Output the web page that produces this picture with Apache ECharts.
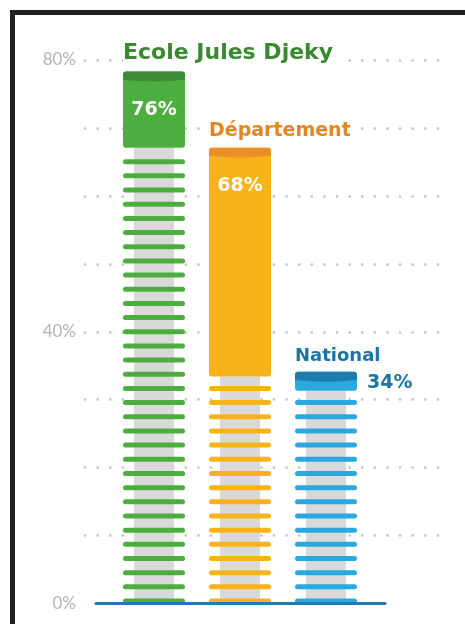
<!DOCTYPE html>
<html>
<head>
<meta charset="utf-8">
<script src="https://cdn.jsdelivr.net/npm/echarts@6/dist/echarts.min.js"></script>
<style>
html,body{margin:0;padding:0;background:#fff;}
#chart{width:465px;height:624px;position:absolute;left:0;top:0;}
#frame{position:absolute;left:10px;top:10px;width:455px;height:614px;border-top:5px solid #231f20;border-left:5px solid #231f20;box-sizing:border-box;pointer-events:none;z-index:5;}
</style>
</head>
<body>
<div id="chart"></div>
<div id="frame"></div>
<script>
// ---- data ----
const categories = ['Ecole Jules Djeky', 'Département', 'National'];
const percentLabels = [76, 68, 34];          // values printed on the chart
const headTop = [78.3, 67.1, 34.1];          // top of each coloured head (axis units, as drawn)
const headBottom = [67.1, 33.4, 31.3];       // bottom of each coloured head
const stripeTop = [64.5, 31.1, 28.9];        // top of the striped column
const yTickLabels = [0, 40, 80];

// ---- styles ----
const mainColors = ['#4cae3e', '#f9b21a', '#2aa8df'];
const bandColors = ['#3d8c35', '#e88f27', '#1f7bab'];
const titleColors = ['#38892f', '#e3861f', '#1b74a3'];
const titleSizes = [22, 19, 18];
const titleFont = '"DejaVu Sans", sans-serif';

const valueLabelStyles = [
  { position: 'inside', color: '#fff' },
  { position: 'insideTop', distance: 29, color: '#fff' },
  { position: 'right', distance: 10, color: '#1b74a3', offset: [0, 2] }
];

const chart = echarts.init(document.getElementById('chart'));

const gridTop = 60, gridBottom = 20.5;

const option = {
  animation: false,
  backgroundColor: '#fff',
  grid: [
    { left: 85, right: 25, top: gridTop, bottom: gridBottom },
    { left: 111, right: 96, top: gridTop, bottom: gridBottom },
    { left: 96, right: 80, top: gridTop, bottom: gridBottom }
  ],
  xAxis: [
    { gridIndex: 0, type: 'value', min: 0, max: 1, show: false },
    { gridIndex: 1, type: 'category', data: categories, show: false },
    { gridIndex: 2, type: 'value', min: 0, max: 1, z: 10,
      axisLine: { show: true, onZero: false, lineStyle: { color: '#1f7bb3', width: 3 } },
      axisTick: { show: false }, axisLabel: { show: false }, splitLine: { show: false } }
  ],
  yAxis: [
    { gridIndex: 0, type: 'value', min: 0, max: 80, interval: 10,
      axisLine: { show: false }, axisTick: { show: false },
      axisLabel: {
        margin: 9, color: '#b3b3b3', fontSize: 17, fontFamily: 'Lato, sans-serif', fontWeight: 'normal',
        formatter: v => yTickLabels.includes(v) ? v + '%' : ''
      },
      splitLine: { show: true, showMinLine: false,
        lineStyle: { color: '#c2c2c2', width: 2.6, type: [0.1, 12.5], cap: 'round' } }
    },
    { gridIndex: 1, type: 'value', min: 0, max: 80, show: false },
    { gridIndex: 2, type: 'value', min: 0, max: 80, show: false }
  ],
  series: [
    { // grey core column
      type: 'pictorialBar', xAxisIndex: 1, yAxisIndex: 1, z: 2, silent: true,
      symbol: 'rect', symbolSize: [40, '100%'],
      itemStyle: { color: '#d9d9d9' },
      data: headBottom
    },
    { // coloured stripes
      type: 'pictorialBar', xAxisIndex: 1, yAxisIndex: 1, z: 3, silent: true,
      symbol: 'path://M2.5,0 H59.5 A2.5,2.5 0 0 1 59.5,5 H2.5 A2.5,2.5 0 0 1 2.5,0 Z',
      symbolSize: [62, 5], symbolRepeat: true, symbolMargin: 4.6,
      data: stripeTop.map((v, i) => ({ value: v, itemStyle: { color: mainColors[i] } }))
    },
    { // transparent base for the heads
      type: 'bar', xAxisIndex: 1, yAxisIndex: 1, stack: 'head', barWidth: 62, z: 4, silent: true,
      itemStyle: { color: 'rgba(0,0,0,0)' },
      data: headBottom
    },
    { // coloured heads
      type: 'bar', xAxisIndex: 1, yAxisIndex: 1, stack: 'head', barWidth: 62, z: 4,
      data: headTop.map((t, i) => ({
        value: +(t - headBottom[i]).toFixed(2),
        itemStyle: { color: mainColors[i], borderRadius: 3 },
        label: Object.assign({
          show: true, fontSize: 19, fontWeight: 'bold', fontFamily: titleFont,
          formatter: () => percentLabels[i] + '%'
        }, valueLabelStyles[i])
      }))
    },
    { // darker top band of each head
      type: 'pictorialBar', xAxisIndex: 1, yAxisIndex: 1, z: 5, silent: true,
      symbol: 'path://M0,3 Q0,0 3,0 H59 Q62,0 62,3 V7 Q31,10 0,7 Z',
      symbolSize: [62, 10], symbolPosition: 'end',
      data: headTop.map((v, i) => ({ value: v, itemStyle: { color: bandColors[i] } }))
    },
    { // titles above each head
      type: 'scatter', xAxisIndex: 1, yAxisIndex: 1, z: 6, symbolSize: 0, silent: true,
      itemStyle: { opacity: 1 },
      data: headTop.map((v, i) => ({
        value: [i, v],
        label: {
          show: true, position: [-31, -7], align: 'left', verticalAlign: 'bottom',
          formatter: categories[i], color: titleColors[i], opacity: 1,
          fontSize: titleSizes[i], fontWeight: 'bold', fontFamily: titleFont,
          backgroundColor: '#fff', padding: [0, 6, 0, 0]
        }
      }))
    }
  ]
};
chart.setOption(option);
</script>
</body>
</html>
